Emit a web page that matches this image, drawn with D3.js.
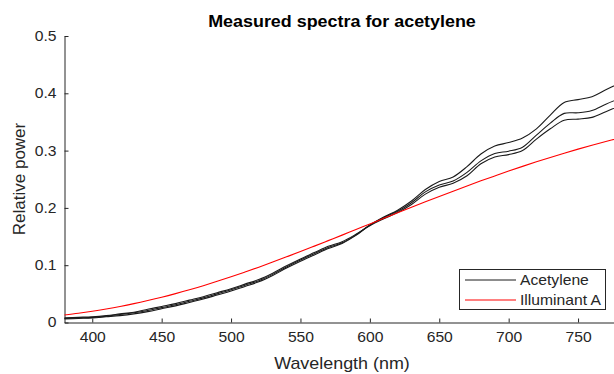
<!DOCTYPE html>
<html>
<head>
<meta charset="utf-8">
<script src="https://cdn.jsdelivr.net/npm/d3@7"></script>
<style>
body { margin: 0; background: #fff; }
svg { display: block; }
text { font-family: "Liberation Sans", Arial, sans-serif; fill: #262626; }
</style>
</head>
<body>
<svg id="chart" width="614" height="374"></svg>
<script>
// wavelengths, 10 nm steps
var wavelengths = [380, 390, 400, 410, 420, 430, 440, 450, 460, 470, 480, 490, 500, 510, 520, 530, 540, 550, 560, 570,
    580, 590, 600, 610, 620, 630, 640, 650, 660, 670, 680, 690, 700, 710, 720, 730, 740, 750, 760, 770, 780];

var acetylene1 = [0.006, 0.007, 0.008, 0.010, 0.012, 0.015, 0.019, 0.024, 0.029, 0.035, 0.041, 0.048, 0.055, 0.063, 0.071, 0.082, 0.095, 0.107, 0.118, 0.129,
    0.138, 0.152, 0.170, 0.184, 0.196, 0.212, 0.232, 0.246, 0.254, 0.272, 0.294, 0.308, 0.314, 0.322, 0.338, 0.362, 0.384, 0.389, 0.394, 0.406, 0.418];
var acetylene2 = [0.007, 0.008, 0.009, 0.011, 0.014, 0.017, 0.021, 0.026, 0.031, 0.037, 0.043, 0.050, 0.057, 0.065, 0.073, 0.084, 0.097, 0.109, 0.120, 0.131,
    0.139, 0.153, 0.170, 0.183, 0.194, 0.209, 0.228, 0.240, 0.247, 0.262, 0.282, 0.295, 0.299, 0.306, 0.327, 0.348, 0.365, 0.366, 0.370, 0.381, 0.391];
var acetylene3 = [0.008, 0.009, 0.010, 0.012, 0.015, 0.018, 0.023, 0.028, 0.033, 0.039, 0.045, 0.052, 0.059, 0.067, 0.075, 0.086, 0.099, 0.111, 0.122, 0.133,
    0.141, 0.154, 0.169, 0.181, 0.192, 0.206, 0.224, 0.236, 0.243, 0.256, 0.277, 0.289, 0.293, 0.300, 0.320, 0.338, 0.353, 0.355, 0.358, 0.368, 0.378];

// CIE illuminant A, scaled
var illuminantA = [0.0131, 0.0161, 0.0196, 0.0236, 0.0280, 0.0329, 0.0383, 0.0441, 0.0504, 0.0571, 0.0643, 0.0719, 0.0798, 0.0881, 0.0966, 0.1055, 0.1146, 0.1238, 0.1333, 0.1429,
    0.1525, 0.1623, 0.1720, 0.1818, 0.1914, 0.2011, 0.2106, 0.2200, 0.2292, 0.2383, 0.2472, 0.2558, 0.2643, 0.2725, 0.2804, 0.2881, 0.2955, 0.3026, 0.3094, 0.3159, 0.3222];

var xTicks = [400, 450, 500, 550, 600, 650, 700, 750];
var yTicks = [0, 0.1, 0.2, 0.3, 0.4, 0.5];
var legendLabels = ["Acetylene", "Illuminant A"];

var sx = 1.12; // text in the picture is a little wide

var svg = d3.select("#chart");

var x = d3.scaleLinear().domain([380, 780]).range([64.5, 619.7]);
var y = d3.scaleLinear().domain([0, 0.5]).range([322.5, 36]);

var line = d3.line()
    .curve(d3.curveCatmullRom)
    .x(function(d) { return x(d[0]); })
    .y(function(d) { return y(d[1]); });

function pairs(vals) {
    return wavelengths.map(function(w, i) { return [w, vals[i]]; });
}

// axes, MATLAB style: ticks point inward
var xAxis = svg.append("g")
    .attr("transform", "translate(0,322.5)")
    .call(d3.axisBottom(x).tickValues(xTicks).tickSizeInner(-4).tickSizeOuter(0).tickPadding(10));
var yAxis = svg.append("g")
    .attr("transform", "translate(64.5,0)")
    .call(d3.axisLeft(y).tickValues(yTicks).tickSizeInner(-4).tickSizeOuter(0).tickPadding(8)
        .tickFormat(function(d) { return d == 0 ? "0" : d3.format(".1f")(d); }));

svg.selectAll(".tick line, .domain").attr("stroke", "#262626");
svg.selectAll(".tick text").attr("font-size", 14).attr("fill", "#333")
    .style("font-family", '"Liberation Sans", Arial, sans-serif');
xAxis.selectAll(".tick text").attr("transform", "scale(" + sx + ",1)");
yAxis.selectAll(".tick text").attr("x", -8 / sx).attr("transform", "scale(" + sx + ",1)");

// data lines
var g = svg.append("g");
[acetylene1, acetylene2, acetylene3].forEach(function(s) {
    g.append("path")
        .datum(pairs(s))
        .attr("fill", "none")
        .attr("stroke", "#1a1a1a")
        .attr("stroke-width", 1.1)
        .attr("d", line);
});
g.append("path")
    .datum(pairs(illuminantA))
    .attr("fill", "none")
    .attr("stroke", "#ff0000")
    .attr("stroke-width", 1.1)
    .attr("d", line);

// title and axis labels
svg.append("text")
    .attr("transform", "translate(342,26.5) scale(" + sx + ",1)")
    .attr("text-anchor", "middle")
    .attr("font-size", 16)
    .attr("font-weight", "bold")
    .style("fill", "#000")
    .text("Measured spectra for acetylene");

svg.append("text")
    .attr("transform", "translate(342,369) scale(" + sx + ",1)")
    .attr("text-anchor", "middle")
    .attr("font-size", 16)
    .text("Wavelength (nm)");

svg.append("text")
    .attr("transform", "translate(25,179) rotate(-90)")
    .attr("text-anchor", "middle")
    .attr("font-size", 17)
    .text("Relative power");

// legend
var legend = svg.append("g");
legend.append("rect")
    .attr("x", 459.5).attr("y", 269.5)
    .attr("width", 146).attr("height", 40)
    .attr("fill", "#fff")
    .attr("stroke", "#262626")
    .attr("stroke-width", 1);
var legendColors = ["#1a1a1a", "#ff0000"];
legendLabels.forEach(function(label, i) {
    var ly = 280 + i * 20;
    legend.append("line")
        .attr("x1", 465).attr("x2", 516)
        .attr("y1", ly).attr("y2", ly)
        .attr("stroke", legendColors[i])
        .attr("stroke-width", 1);
    legend.append("text")
        .attr("transform", "translate(520," + (ly + 5) + ") scale(" + sx + ",1)")
        .attr("font-size", 14)
        .text(label);
});
</script>
</body>
</html>
